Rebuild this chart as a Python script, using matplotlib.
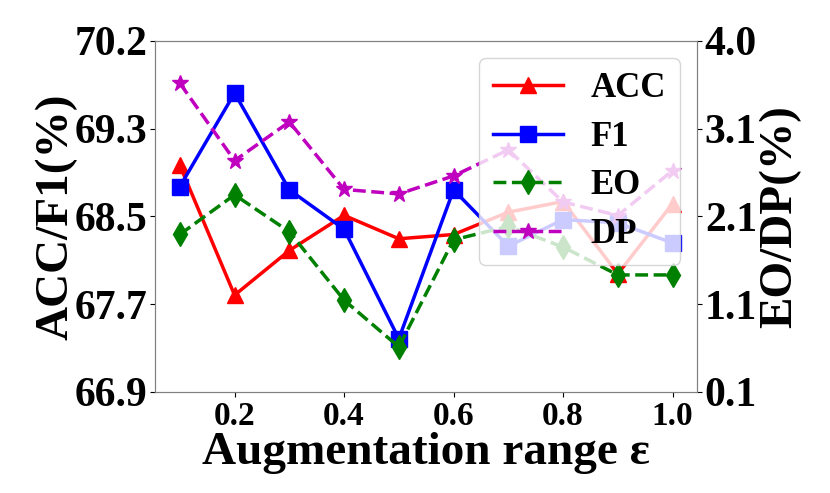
import numpy as np
import matplotlib
matplotlib.use('Agg')
import matplotlib.pyplot as plt

plt.rcParams['font.family'] = ['Liberation Serif', 'DejaVu Serif']
plt.rcParams['font.weight'] = 'bold'

# datos
eps = [0.1, 0.2, 0.3, 0.4, 0.5, 0.6, 0.7, 0.8, 0.9, 1.0]
acc = [69.03, 67.81, 68.23, 68.56, 68.34, 68.38, 68.59, 68.69, 68.01, 68.67]
f1 = [68.83, 69.71, 68.80, 68.43, 67.40, 68.80, 68.27, 68.52, 68.49, 68.30]
eo = [1.85, 2.29, 1.88, 1.12, 0.60, 1.79, 1.94, 1.71, 1.40, 1.40]
dp = [3.53, 2.67, 3.10, 2.35, 2.30, 2.50, 2.79, 2.21, 2.06, 2.56]

left_ticks = ['66.9', '67.7', '68.5', '69.3', '70.2']
right_ticks = ['0.1', '1.1', '2.1', '3.1', '4.0']
x_ticks = [0.2, 0.4, 0.6, 0.8, 1.0]

fig, ax1 = plt.subplots(figsize=(8.3, 4.93), dpi=100)
fig.subplots_adjust(left=0.187, right=0.840, top=0.917, bottom=0.205)
ax2 = ax1.twinx()

l1, = ax1.plot(eps, acc, color='r', marker='^', markersize=12, linewidth=2.5, label='ACC')
l2, = ax1.plot(eps, f1, color='b', marker='s', markersize=12, linewidth=2.5, label='F1')
l3, = ax2.plot(eps, eo, color='g', marker='d', markersize=12, linewidth=2.5, linestyle='--', label='EO')
l4, = ax2.plot(eps, dp, color='m', marker='*', markersize=12, linewidth=2.5, linestyle='--', label='DP')

ax1.set_ylim(66.9, 70.2)
ax1.set_yticks(np.linspace(66.9, 70.2, 5))
ax1.set_yticklabels(left_ticks)
ax2.set_ylim(0.1, 4.0)
ax2.set_yticks(np.linspace(0.1, 4.0, 5))
ax2.set_yticklabels(right_ticks)
ax1.set_xticks(x_ticks)
ax1.set_xticklabels([f'{t:.1f}' for t in x_ticks])

ax1.tick_params(axis='both', labelsize=30, pad=2)
ax1.tick_params(axis='x', labelsize=24, pad=3)
ax2.tick_params(axis='y', labelsize=30, pad=2)

ax1.set_xlabel('Augmentation range ε', fontsize=34, fontweight='bold', labelpad=0)
ax1.set_ylabel('ACC/F1(%)', fontsize=34, fontweight='bold', labelpad=-2)
ax2.set_ylabel('EO/DP(%)', fontsize=34, fontweight='bold', labelpad=1)

for ax in (ax1, ax2):
    for s in ax.spines.values():
        s.set_color('#808080')

ax2.legend(handles=[l1, l2, l3, l4], loc='upper right',
           prop={'weight': 'bold', 'size': 25}, labelspacing=0.45)

plt.savefig('out.png', dpi=100)
